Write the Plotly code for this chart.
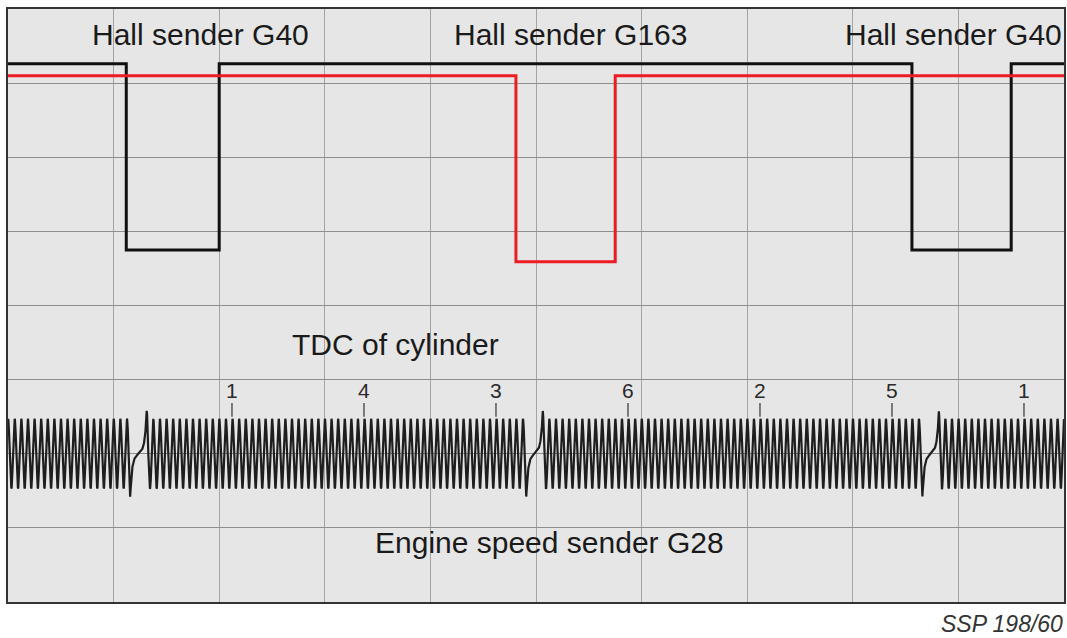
import numpy as np
import plotly.graph_objects as go

# --- Hall sender G40 (black): switching instants and levels (grid units)
g40_times = [0.0, 1.12, 2.00, 8.56, 9.50, 10.0]
g40_levels = [7.26, 4.75, 7.26, 4.75, 7.26, 7.26]

# --- Hall sender G163 (red)
g163_times = [0.0, 4.81, 5.75, 10.0]
g163_levels = [7.10, 4.59, 7.10, 7.10]

# --- Engine speed sender G28: 60-2 trigger wheel
teeth_per_rev = 60
rev_length = 3.75            # one crankshaft revolution in grid units
gap_troughs = [1.157, 4.908, 8.659]   # deep trough at start of each reference gap
wave_centre = 2.0
tooth_amp = 0.47
gap_amp = 0.58

# --- TDC marks
tdc_x = [2.121, 3.371, 4.621, 5.871, 7.121, 8.371, 9.621]
tdc_labels = ["1", "4", "3", "6", "2", "5", "1"]

FONT = "Liberation Sans, Arial, sans-serif"
TXT = "#1a1a1a"

# Build the inductive sender waveform
P = rev_length / teeth_per_rev
x = np.linspace(0, 10, 12001)
g0 = gap_troughs[0]
phase = 2 * np.pi * (x - g0) / P
y = wave_centre - tooth_amp * np.cos(phase)
for g in gap_troughs:
    pre = (x >= g - 0.5 * P) & (x < g)
    w = (x[pre] - (g - 0.5 * P)) / (0.5 * P)
    y[pre] = wave_centre - (tooth_amp + (gap_amp - tooth_amp) * w) * np.cos(phase[pre])
    gap = (x >= g) & (x <= g + 2.5 * P)
    v = 2 * (x[gap] - g) / (2.5 * P) - 1
    y[gap] = wave_centre + gap_amp * (0.8 * v ** 5 + 0.2 * v)
    post = (x > g + 2.5 * P) & (x < g + 3 * P)
    w = (x[post] - (g + 2.5 * P)) / (0.5 * P)
    y[post] = wave_centre - (gap_amp + (tooth_amp - gap_amp) * w) * np.cos(phase[post])

fig = go.Figure()
fig.add_trace(go.Scatter(x=x, y=y, mode="lines",
                         line=dict(color="#1e1e1e", width=2.2), hoverinfo="skip"))
fig.add_trace(go.Scatter(x=g40_times, y=g40_levels, mode="lines", line_shape="hv",
                         line=dict(color="#111111", width=3), hoverinfo="skip"))
fig.add_trace(go.Scatter(x=g163_times, y=g163_levels, mode="lines", line_shape="hv",
                         line=dict(color="#ec1c24", width=3), hoverinfo="skip"))

# TDC tick marks
tx, ty = [], []
for t in tdc_x:
    tx += [t, t, None]
    ty += [2.50, 2.685, None]
fig.add_trace(go.Scatter(x=tx, y=ty, mode="lines",
                         line=dict(color="#333333", width=1.2), hoverinfo="skip"))

annotations = []
for t, lab in zip(tdc_x, tdc_labels):
    annotations.append(dict(x=t, y=2.86, text=lab, showarrow=False,
                            xanchor="center", yanchor="middle",
                            font=dict(family=FONT, size=21, color="#2a2a2a")))

big = dict(family=FONT, size=30, color=TXT)
annotations += [
    dict(x=1.824, y=7.65, text="Hall sender G40", showarrow=False,
         xanchor="center", yanchor="middle", font=big),
    dict(x=5.33, y=7.65, text="Hall sender G163", showarrow=False,
         xanchor="center", yanchor="middle", font=big),
    dict(x=10.0, y=7.65, text="Hall sender G40", showarrow=False,
         xanchor="right", yanchor="middle", font=big),
    dict(x=3.667, y=3.48, text="TDC of cylinder", showarrow=False,
         xanchor="center", yanchor="middle", font=big),
    dict(x=5.13, y=0.80, text="Engine speed sender G28", showarrow=False,
         xanchor="center", yanchor="middle", font=big),
    dict(xref="paper", yref="paper", x=1.0, y=-0.037,
         text="<i>SSP 198/60</i>", showarrow=False,
         xanchor="right", yanchor="middle", borderpad=0,
         font=dict(family=FONT, size=23, color="#333333")),
]

fig.update_layout(
    width=1067, height=638,
    margin=dict(l=8, r=1, t=9, b=36),
    paper_bgcolor="white", plot_bgcolor="#e6e6e6",
    showlegend=False,
    annotations=annotations,
    xaxis=dict(range=[0, 10], dtick=1, showticklabels=False, ticks="",
               showgrid=True, gridcolor="#a4a4a4", gridwidth=1, zeroline=False,
               showline=True, linecolor="#333333", linewidth=2, mirror=True,
               fixedrange=True),
    yaxis=dict(range=[0, 8], dtick=1, showticklabels=False, ticks="",
               showgrid=True, gridcolor="#8e8e8e", gridwidth=1, zeroline=False,
               showline=True, linecolor="#333333", linewidth=2, mirror=True,
               fixedrange=True),
)

fig.write_html("out.html")
